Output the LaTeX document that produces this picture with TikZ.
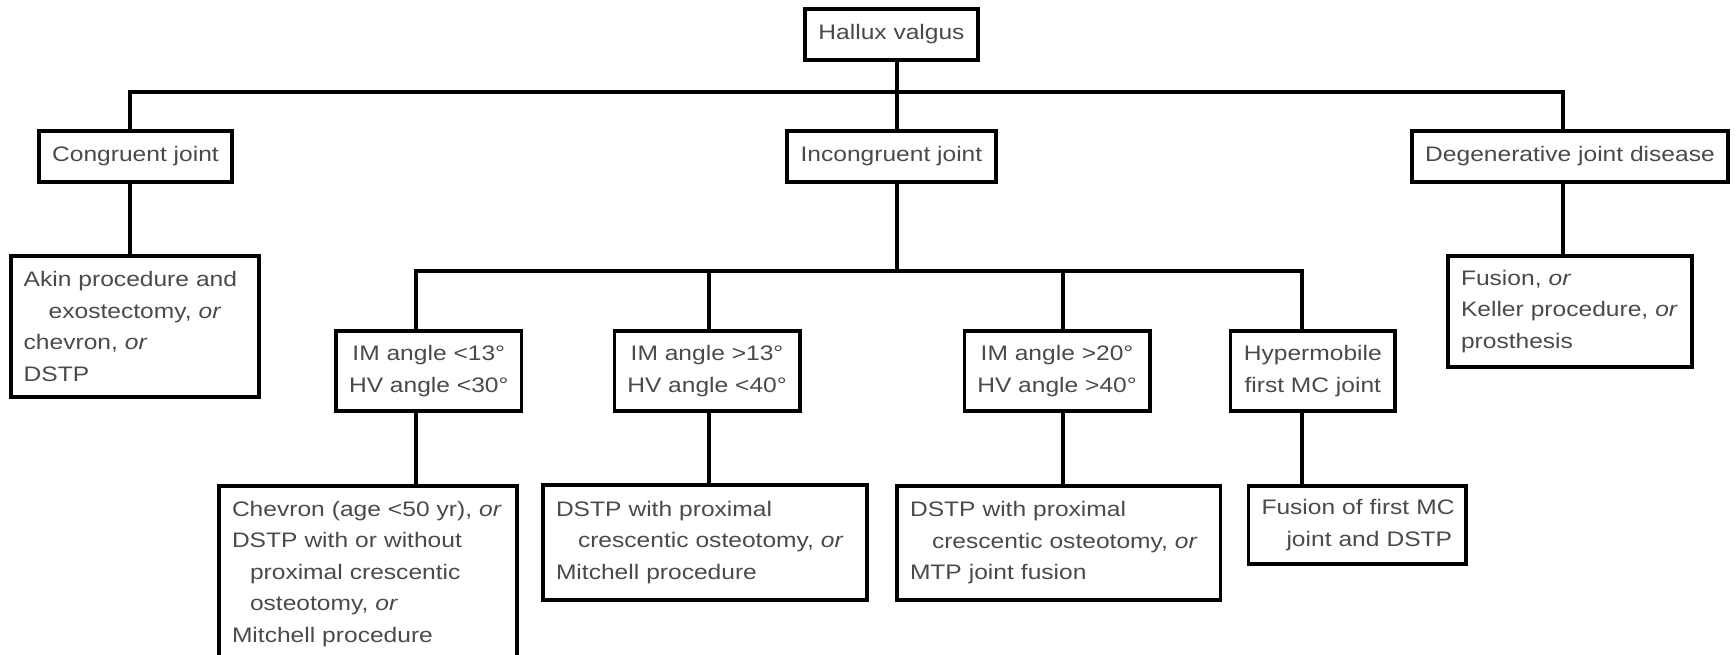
\documentclass[tikz,border=0pt]{standalone}
\usepackage{fontspec}
\setmainfont{Liberation Sans}[FakeStretch=1.17]
\newcommand\boxfont{\fontsize{21}{31.5}\selectfont}
\definecolor{txt}{HTML}{4A4A4A}
\begin{document}
\begin{tikzpicture}[x=1pt,y=-1pt,
  box/.style={draw, line width=3.6pt, inner xsep=13pt, inner ysep=0pt, text=txt, font=\boxfont},
  cbox/.style={box, align=center},
  lbox/.style={box, align=left},
  conn/.style={line width=3.6pt, line join=miter, line cap=rect}]
\useasboundingbox (0,0) rectangle (1736,654);
\fill[white] (0,0) rectangle (1736,654);
\clip (0,0) rectangle (1736,654);

% level 1 and 2
\node[cbox, minimum width=173pt, minimum height=51pt] (hv) at (891.5,34.5) {Hallux valgus};
\node[cbox, minimum width=191pt, minimum height=51pt] (cong) at (135.5,156.5) {Congruent joint};
\node[cbox, minimum width=209pt, minimum height=51pt] (incong) at (891.4,156.5) {Incongruent joint};
\node[cbox, minimum width=316pt, minimum height=51pt] (degen) at (1570,156.5) {Degenerative joint disease};

% outcomes of congruent and degenerative
\node[lbox, text width=222pt, minimum height=141pt] (akin) at (134.7,326.5)
  {\mbox{Akin procedure and}\\\mbox{\hspace*{25pt}exostectomy, \textit{or}}\\\mbox{chevron, \textit{or}}\\\mbox{DSTP}};
\node[lbox, text width=218pt, minimum height=111pt] (fus) at (1570,311.5)
  {\mbox{Fusion, \textit{or}}\\\mbox{Keller procedure, \textit{or}}\\\mbox{prosthesis}};

% level 3
\node[cbox, minimum width=183.5pt, minimum height=80pt] (im13) at (428.75,371) {IM angle <13°\\HV angle <30°};
\node[cbox, minimum width=184pt, minimum height=80pt] (im13b) at (707,371) {IM angle >13°\\HV angle <40°};
\node[cbox, minimum width=184pt, minimum height=80pt] (im20) at (1057,371) {IM angle >20°\\HV angle >40°};
\node[cbox, minimum width=164.4pt, minimum height=80pt] (hyper) at (1312.8,371) {Hypermobile\\first MC joint};

% level 4
\node[lbox, text width=272pt, minimum height=176pt] (chev) at (368,574)
  {\mbox{Chevron (age <50 yr), \textit{or}}\\\mbox{DSTP with or without}\\\mbox{\hspace*{18pt}proximal crescentic}\\\mbox{\hspace*{18pt}osteotomy, \textit{or}}\\\mbox{Mitchell procedure}};
\node[lbox, text width=298pt, minimum height=115pt] (dstpa) at (705,542.5)
  {\mbox{DSTP with proximal}\\\mbox{\hspace*{22pt}crescentic osteotomy, \textit{or}}\\\mbox{Mitchell procedure}};
\node[lbox, text width=297.5pt, minimum height=114pt] (dstpb) at (1058.75,543)
  {\mbox{DSTP with proximal}\\\mbox{\hspace*{22pt}crescentic osteotomy, \textit{or}}\\\mbox{MTP joint fusion}};
\node[lbox, text width=191.5pt, minimum height=78pt] (fusmc) at (1357.25,525)
  {\mbox{Fusion of first MC}\\\mbox{\hspace*{25pt}joint and DSTP}};

% branch coordinates
\coordinate (tl) at (130,92);
\coordinate (t0) at (897,92);
\coordinate (tr) at (1563,92);
\coordinate (s0) at (897,271);
\coordinate (s1) at (416,271);
\coordinate (s2) at (709,271);
\coordinate (s3) at (1063,271);
\coordinate (s4) at (1302,271);

% connectors
\draw[conn] (hv.south -| t0) -- (incong.north -| t0);
\draw[conn] (cong.north -| tl) -- (tl) -- (tr) -- (degen.north -| tr);
\draw[conn] (cong.south -| tl) -- (akin.north -| tl);
\draw[conn] (degen.south -| tr) -- (fus.north -| tr);
\draw[conn] (incong.south -| s0) -- (s0);
\draw[conn] (im13.north -| s1) -- (s1) -- (s4) -- (hyper.north -| s4);
\draw[conn] (s2) -- (im13b.north -| s2);
\draw[conn] (s3) -- (im20.north -| s3);
\draw[conn] (im13.south -| s1) -- (chev.north -| s1);
\draw[conn] (im13b.south -| s2) -- (dstpa.north -| s2);
\draw[conn] (im20.south -| s3) -- (dstpb.north -| s3);
\draw[conn] (hyper.south -| s4) -- (fusmc.north -| s4);
\end{tikzpicture}
\end{document}
